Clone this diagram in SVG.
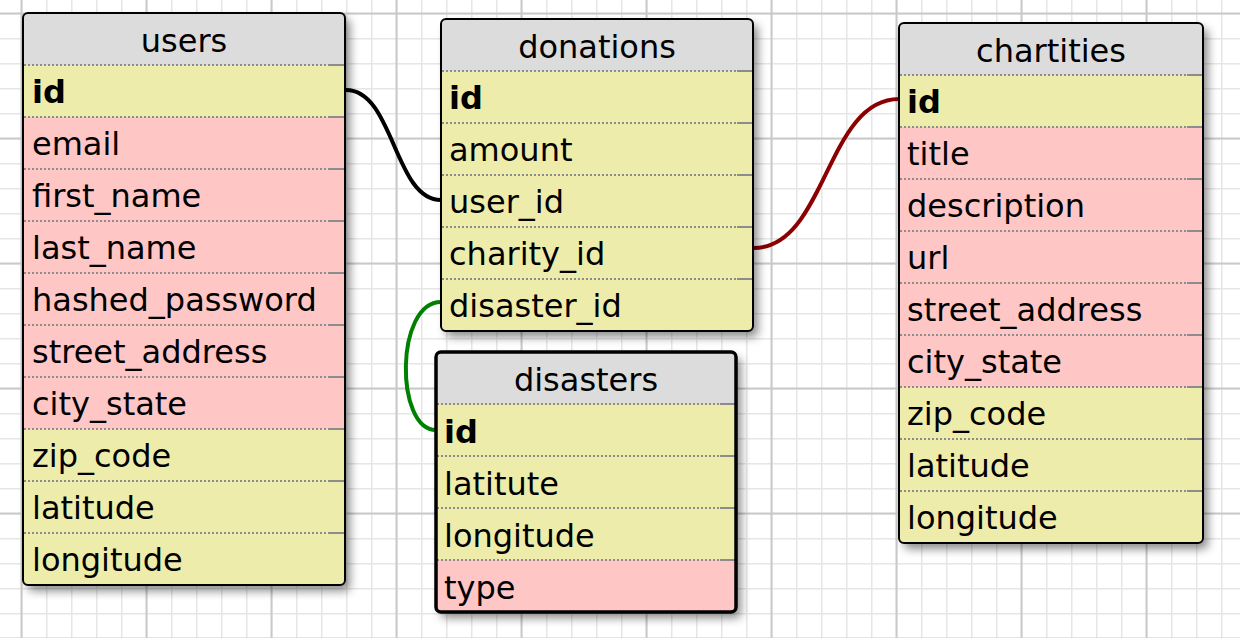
<svg xmlns="http://www.w3.org/2000/svg" width="1240" height="638" viewBox="0 0 1240 638">
<style>
.hdr{fill:#dcdcdc}
.y{fill:#eeecaa}
.p{fill:#ffc6c6}
.sep{stroke:#8c8c8c;stroke-width:2;stroke-dasharray:2 2;fill:none}
.sepe{stroke:#8c8c8c;stroke-width:2;fill:none}
.bd{fill:none;stroke:#000;stroke-width:2}
.bd3{fill:none;stroke:#000;stroke-width:3.5}
.sh{fill:#fff;filter:url(#shadow)}
text{font-family:"DejaVu Sans","Verdana",sans-serif;font-size:32px;fill:#000}
.t{text-anchor:middle}
.pk{font-weight:bold}
.conn{fill:none;stroke-width:4}
</style>
<defs>
<pattern id="minor" patternUnits="userSpaceOnUse" x="9" y="1" width="25" height="25">
<rect x="12" y="0" width="1.5" height="25" fill="#e6e6e6"/>
<rect x="0" y="12" width="25" height="1.5" fill="#e6e6e6"/>
</pattern>
<pattern id="major" patternUnits="userSpaceOnUse" x="-41" y="-49" width="125" height="125">
<rect x="61.5" y="0" width="2" height="125" fill="#c9c9c9"/>
<rect x="0" y="61.5" width="125" height="2" fill="#c9c9c9"/>
</pattern>
<filter id="shadow" x="-10%" y="-10%" width="130%" height="130%">
<feDropShadow dx="5" dy="6" stdDeviation="5" flood-color="#000" flood-opacity="0.45"/>
</filter>
<clipPath id="cu"><rect x="23" y="13" width="322" height="572" rx="5"/></clipPath>
<clipPath id="cd"><rect x="441" y="19" width="312" height="312" rx="5"/></clipPath>
<clipPath id="cc"><rect x="899" y="23" width="304" height="520" rx="5"/></clipPath>
<clipPath id="cs"><rect x="436" y="352" width="300" height="260" rx="5"/></clipPath>
</defs>

<rect x="0" y="0" width="1240" height="638" fill="#fff"/>
<rect x="0" y="0" width="1240" height="638" fill="url(#minor)"/>
<rect x="0" y="0" width="1240" height="638" fill="url(#major)"/>

<g id="connectors">
<path class="conn" stroke="#000" d="M346,90 C394,90 394,200 441,200"/>
<path class="conn" stroke="#8b0000" d="M754,248 C826,248 826,99 899,99"/>
<path class="conn" stroke="#008000" stroke-width="3.5" d="M441,302 C395,302 395,430 436,430"/>
</g>

<g id="users">
<rect class="sh" x="23" y="13" width="322" height="572" rx="5"/>
<g clip-path="url(#cu)">
<rect class="hdr" x="23" y="13" width="322" height="52"/>
<rect class="y" x="23" y="65" width="322" height="52"/>
<rect class="p" x="23" y="117" width="322" height="312"/>
<rect class="y" x="23" y="429" width="322" height="156"/>
</g>
<path class="sep" d="M24,65H329M24,117H329M24,169H329M24,221H329M24,273H329M24,325H329M24,377H329M24,429H329M24,481H329M24,533H329"/>
<path class="sepe" d="M329,65H344M329,117H344M329,169H344M329,221H344M329,273H344M329,325H344M329,377H344M329,429H344M329,481H344M329,533H344"/>
<rect class="bd" x="23" y="13" width="322" height="572" rx="5"/>
<text class="t" x="184" y="52">users</text>
<text class="pk" x="32" y="103">id</text>
<text x="32" y="155">email</text>
<text x="32" y="207">first_name</text>
<text x="32" y="259">last_name</text>
<text x="32" y="311">hashed_password</text>
<text x="32" y="363">street_address</text>
<text x="32" y="415">city_state</text>
<text x="32" y="467">zip_code</text>
<text x="32" y="519">latitude</text>
<text x="32" y="571">longitude</text>
</g>

<g id="donations">
<rect class="sh" x="441" y="19" width="312" height="312" rx="5"/>
<g clip-path="url(#cd)">
<rect class="hdr" x="441" y="19" width="312" height="52"/>
<rect class="y" x="441" y="71" width="312" height="260"/>
</g>
<path class="sep" d="M442,71H737M442,123H737M442,175H737M442,227H737M442,279H737"/>
<path class="sepe" d="M737,71H752M737,123H752M737,175H752M737,227H752M737,279H752"/>
<rect class="bd" x="441" y="19" width="312" height="312" rx="5"/>
<text class="t" x="597" y="58">donations</text>
<text class="pk" x="449" y="109">id</text>
<text x="449" y="161">amount</text>
<text x="449" y="213">user_id</text>
<text x="449" y="265">charity_id</text>
<text x="449" y="317">disaster_id</text>
</g>

<g id="chartities">
<rect class="sh" x="899" y="23" width="304" height="520" rx="5"/>
<g clip-path="url(#cc)">
<rect class="hdr" x="899" y="23" width="304" height="52"/>
<rect class="y" x="899" y="75" width="304" height="52"/>
<rect class="p" x="899" y="127" width="304" height="260"/>
<rect class="y" x="899" y="387" width="304" height="156"/>
</g>
<path class="sep" d="M900,75H1187M900,127H1187M900,179H1187M900,231H1187M900,283H1187M900,335H1187M900,387H1187M900,439H1187M900,491H1187"/>
<path class="sepe" d="M1187,75H1202M1187,127H1202M1187,179H1202M1187,231H1202M1187,283H1202M1187,335H1202M1187,387H1202M1187,439H1202M1187,491H1202"/>
<rect class="bd" x="899" y="23" width="304" height="520" rx="5"/>
<text class="t" x="1051" y="62">chartities</text>
<text class="pk" x="907" y="113">id</text>
<text x="907" y="165">title</text>
<text x="907" y="217">description</text>
<text x="907" y="269">url</text>
<text x="907" y="321">street_address</text>
<text x="907" y="373">city_state</text>
<text x="907" y="425">zip_code</text>
<text x="907" y="477">latitude</text>
<text x="907" y="529">longitude</text>
</g>

<g id="disasters">
<rect class="sh" x="436" y="352" width="300" height="260" rx="5"/>
<g clip-path="url(#cs)">
<rect class="hdr" x="436" y="352" width="300" height="52"/>
<rect class="y" x="436" y="404" width="300" height="156"/>
<rect class="p" x="436" y="560" width="300" height="52"/>
</g>
<path class="sep" d="M437,404H720M437,456H720M437,508H720M437,560H720"/>
<path class="sepe" d="M720,404H735M720,456H735M720,508H735M720,560H735"/>
<rect class="bd3" x="436" y="352" width="300" height="260" rx="5"/>
<text class="t" x="586" y="391">disasters</text>
<text class="pk" x="444" y="443">id</text>
<text x="444" y="495">latitute</text>
<text x="444" y="547">longitude</text>
<text x="444" y="599">type</text>
</g>
</svg>
